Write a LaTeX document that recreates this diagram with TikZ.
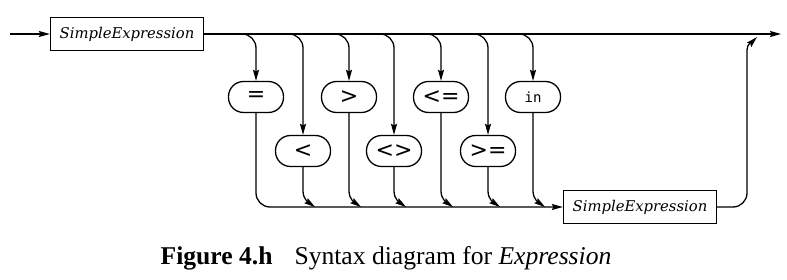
\documentclass[tikz,border=0pt]{standalone}
\usepackage{fontspec}
\newfontfamily\capfont{Liberation Serif}
\newfontfamily\opfont{DejaVu Sans}
\newfontfamily\kwfont{DejaVu Sans Mono}
\newfontfamily\ntfont{DejaVu Serif}
\usetikzlibrary{arrows.meta,calc}
\begin{document}
\begin{tikzpicture}[x=1pt,y=1pt,
  line width=1.3pt,
  >={Stealth[length=11pt,width=6pt,inset=1.5pt]},
  ntbox/.style={draw, rectangle, minimum width=153pt, minimum height=33pt, inner sep=0pt, font=\ntfont\itshape\fontsize{14.8}{18}\selectfont},
  opbox/.style={draw, rounded corners=15pt, minimum width=55pt, minimum height=31pt, inner sep=0pt, font=\opfont\fontsize{22}{24}\selectfont},
  kwbox/.style={opbox, font=\kwfont\fontsize{14}{16}\selectfont}]
\useasboundingbox (0,0) rectangle (787,-280);
\coordinate (start) at (10,-34);
\node[ntbox] (se1) at (127,-34) {SimpleExpression};
\coordinate (end) at (781,-34);
\node[opbox] (eq) at (256,-97) {=};
\node[opbox] (gt) at (349,-97) {>};
\node[opbox] (le) at (441,-97) {<=};
\node[kwbox] (in) at (533,-97) {in};
\node[opbox] (lt) at (303,-151) {<};
\node[opbox] (ne) at (394,-151) {<>};
\node[opbox] (ge) at (488,-151) {>=};
\node[ntbox] (se2) at (640,-207) {SimpleExpression};
\coordinate (bl) at (256,-207);
\coordinate (rup) at (747,-120);
\node[anchor=base west, inner sep=0pt, font=\capfont\fontsize{25.6}{30}\selectfont] (cap) at (160,-265) {\textbf{Figure 4.h}\hspace{22pt}Syntax diagram for \textit{Expression}};
% main line
\draw[->] (start) -- (se1.west);
\draw[->] (se1.east) -- (end);
% branches
\foreach \n in {eq,lt,gt,ne,le,ge,in}{
  \draw[->] ($(\n.north |- se1.east)+(-14,0)$) to[out=0,in=90] ($(\n.north |- se1.east)+(0,-14)$) -- (\n.north);
}
% bottom line
\draw[->, rounded corners=14pt] (eq.south) -- (bl) -- (se2.west);
% merges
\foreach \n in {lt,gt,ne,le,ge,in}{
  \draw[->] (\n.south) -- ($(\n.south |- bl)+(0,16)$) to[out=-90,in=145] ($(\n.south |- bl)+(12,0)$);
}
% return
\draw[->] (se2.east) -- ($(rup |- se2.east)+(-14,0)$) to[out=0,in=-90] ($(rup |- se2.east)+(0,14)$) -- ($(rup |- se1.east)+(0,-16)$) to[out=90,in=-135] ($(rup |- se1.east)+(10,-3)$);
\end{tikzpicture}
\end{document}
